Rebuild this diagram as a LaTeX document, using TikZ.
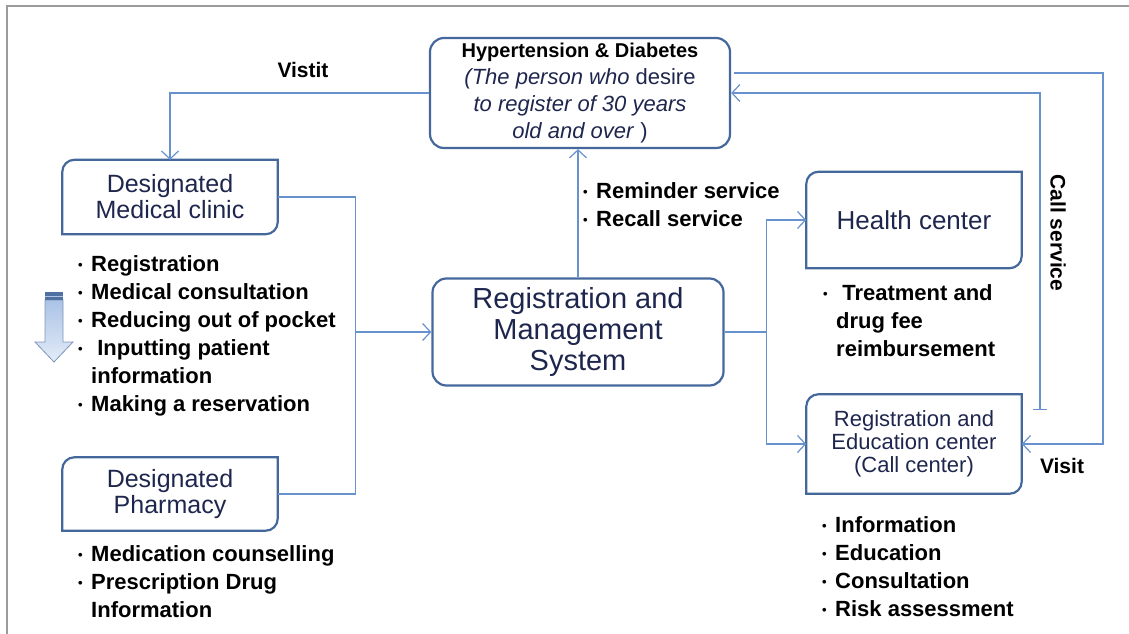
\documentclass[tikz,border=0pt]{standalone}
\usepackage{fontspec}
\setmainfont{Liberation Sans}
\usepackage{xcolor}
\usetikzlibrary{arrows.meta,positioning,calc}

\definecolor{boxline}{RGB}{68,104,155}
\definecolor{linkblue}{RGB}{104,146,205}
\definecolor{boxtext}{RGB}{30,38,78}
\definecolor{framegray}{RGB}{155,155,155}
\definecolor{arrowtop}{RGB}{170,195,230}
\definecolor{arrowlow}{RGB}{228,236,248}
\definecolor{arrowband}{RGB}{80,112,162}

\newcommand{\blt}{\makebox[13pt][l]{\fontsize{13}{13}\selectfont\raisebox{2pt}{•}}}

\begin{document}
\begin{tikzpicture}[
    x=1pt,
    y=-1pt,
    >={Straight Barb[length=8pt,width=17pt]},
    box/.style={draw=none, text=boxtext, align=center, inner sep=0pt, minimum width=215pt},
    roundbox/.style={draw=boxline, line width=2.2pt, rounded corners=14pt, text=boxtext, align=center, inner sep=0pt},
    link/.style={draw=linkblue, line width=1.2pt},
    items/.style={anchor=north west, align=left, inner sep=0pt, font=\bfseries\fontsize{22}{28}\selectfont},
    tag/.style={inner sep=0pt, font=\bfseries\fontsize{21}{24}\selectfont}
]
\useasboundingbox (0,0) rectangle (1129,634);
\draw[framegray, line width=2.5pt] (7,634) -- (7,6) -- (1129,6);

% boxes
\node[roundbox, minimum width=300pt, minimum height=110pt, font=\fontsize{22}{27}\selectfont] (hd) at (580,93)
  {{\color{black}\bfseries\fontsize{20}{27}\selectfont Hypertension \& Diabetes}\\
   \textit{(The person who} desire\\
   \textit{to register of 30 years}\\
   \textit{old and over} )};
\node[roundbox, minimum width=291pt, minimum height=107pt, font=\fontsize{29}{31}\selectfont] (rms) at (578,332)
  {Registration and\\Management\\System};
\node[box, minimum height=74pt, font=\fontsize{25}{26}\selectfont] (clinic) at (170,197) {Designated\\Medical clinic};
\node[box, minimum height=73pt, font=\fontsize{25}{26}\selectfont] (pharm) at (170,494) {Designated\\Pharmacy};
\node[box, minimum height=96pt, font=\fontsize{26}{28}\selectfont] (hc) at (914,220) {Health center};
\node[box, minimum height=99pt, font=\fontsize{22}{23}\selectfont] (rc) at (914,444)
  {Registration and\\Education center\\(Call center)};

% outlines, top-left and bottom-right corners rounded
\foreach \b in {clinic,pharm,hc,rc}
  \draw[boxline, line width=2.2pt] (\b.north east) [rounded corners=12pt] -- (\b.south east)
    [sharp corners] -- (\b.south west) [rounded corners=12pt] -- (\b.north west) [sharp corners] -- cycle;

% lists
\node[items] (clinicitems) at (78,255) {\blt Registration\\ \blt Medical consultation\\ \blt Reducing out of pocket\\
  \blt\ Inputting patient\\ \hspace*{13pt}information\\ \blt Making a reservation};
\node[items] (pharmitems) at (78,545) {\blt Medication counselling\\ \blt Prescription Drug\\ \hspace*{13pt}Information};
\node[items] (rmsitems) at (583,182) {\blt Reminder service\\ \blt Recall service};
\node[items] (hcitems) at (823,284) {\blt\ Treatment and\\ \hspace*{13pt}drug fee\\ \hspace*{13pt}reimbursement};
\node[items] (rcitems) at (822,516) {\blt Information\\ \blt Education\\ \blt Consultation\\ \blt Risk assessment};

% labels
\node[tag] (visitleft) at (303,70) {Vistit};
\node[tag] (visitright) at (1062,466) {Visit};
\node[tag, rotate=-90] (callsvc) at (1058,233) {Call service};

% down arrow beside the clinic list
\shade[top color=arrowtop, bottom color=arrowlow, draw=boxline!70, line width=0.8pt]
  (45,300) -- (63,300) -- (63,342) -- (73,342) -- (54,362) -- (35,342) -- (45,342) -- cycle;
\fill[arrowband] (45,292) rectangle (63,300);
\draw[arrowtop, line width=1pt] (45,296) -- (63,296);

% connectors
\draw[link,->] (hd.west) -| (clinic.north);
\coordinate (jl) at ([xshift=-76pt]rms.west);
\draw[link] (clinic.east) -| (jl) |- (pharm.east);
\draw[link,->] (jl) -- (rms.west);
\draw[link,->] (rms.north) -- (rms.north |- hd.south);
\coordinate (jr) at ([xshift=42pt]rms.east);
\draw[link] (rms.east) -- (jr);
\draw[link,->] (jr) |- (hc.west);
\draw[link,->] (jr) |- (rc.west);
\coordinate (callfoot) at (1040,410);
\draw[link,{Bar[width=14pt]}->] (callfoot) |- (hd.east);
\coordinate (visitbend) at (1103,300);
\draw[link,->] ([xshift=3pt,yshift=20pt]hd.east) -| (visitbend) |- (rc.east);
\end{tikzpicture}
\end{document}
